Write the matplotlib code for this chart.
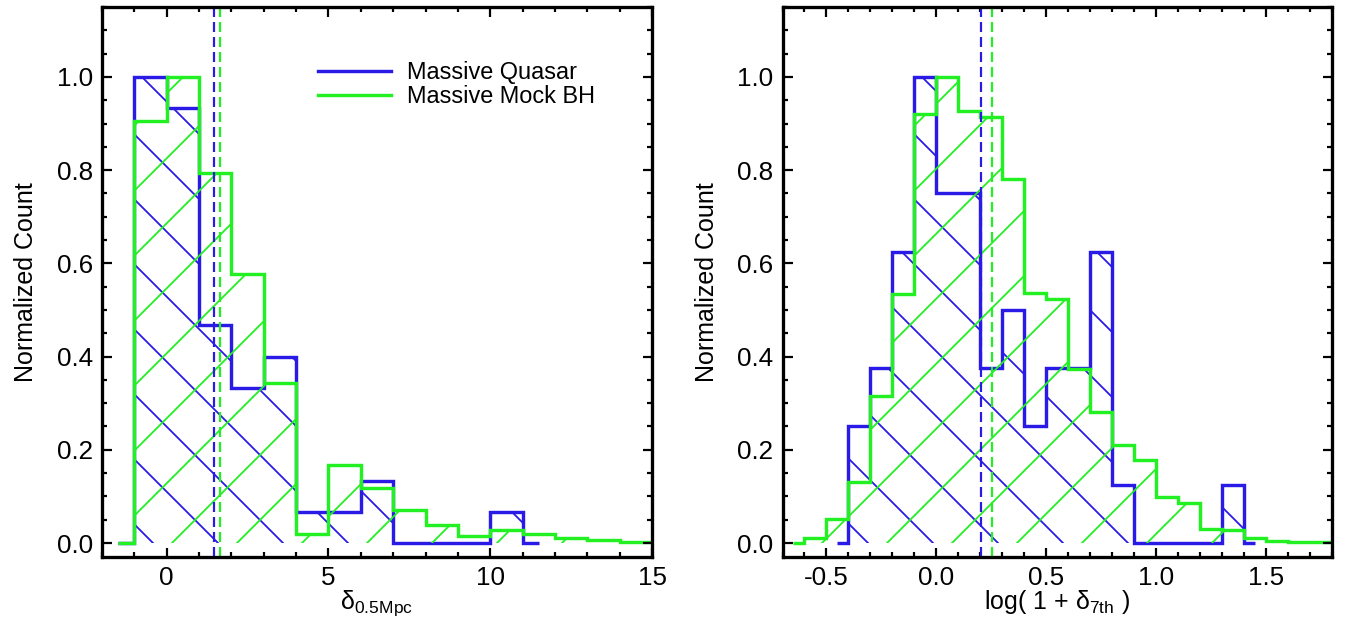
import numpy as np
import matplotlib
matplotlib.use("Agg")
import matplotlib.pyplot as plt
from matplotlib.lines import Line2D
from matplotlib.ticker import MultipleLocator, FormatStrFormatter

# ---- data ----
# left panel: delta_0.5Mpc, bin width 1
left_quasar_edges = [-1.5, -1, 0, 1, 2, 3, 4, 5, 6, 7, 8, 9, 10, 11, 11.5]
left_quasar = [0, 1.0, 0.933, 0.467, 0.333, 0.400, 0.067, 0.067, 0.133,
               0, 0, 0, 0.067, 0]
left_mock_edges = [-1.5, -1, 0, 1, 2, 3, 4, 5, 6, 7, 8, 9, 10, 11, 12, 13, 14, 15]
left_mock = [0, 0.905, 1.0, 0.794, 0.577, 0.343, 0.020, 0.168, 0.117, 0.071,
             0.039, 0.014, 0.028, 0.019, 0.010, 0.006, 0.002]
left_means = [1.46, 1.65]          # quasar, mock

# right panel: log(1 + delta_7th), bin width 0.1
right_quasar_edges = [-0.45, -0.4, -0.3, -0.2, -0.1, 0.0, 0.1, 0.2, 0.3, 0.4, 0.5,
                      0.6, 0.7, 0.8, 0.9, 1.0, 1.1, 1.2, 1.3, 1.4, 1.45]
right_quasar = [0, 0.25, 0.375, 0.625, 1.0, 0.75, 0.75, 0.375, 0.5, 0.25,
                0.375, 0.375, 0.625, 0.125, 0, 0, 0, 0, 0.125, 0]
right_mock_edges = [-0.65, -0.6, -0.5, -0.4, -0.3, -0.2, -0.1, 0.0, 0.1, 0.2, 0.3,
                    0.4, 0.5, 0.6, 0.7, 0.8, 0.9, 1.0, 1.1, 1.2, 1.3, 1.4, 1.5,
                    1.6, 1.7, 1.8]
right_mock = [0, 0.011, 0.052, 0.130, 0.316, 0.534, 0.920, 1.0, 0.926, 0.913,
              0.781, 0.537, 0.523, 0.373, 0.281, 0.211, 0.178, 0.098, 0.086,
              0.030, 0.028, 0.011, 0.005, 0.002, 0.002]
right_means = [0.203, 0.254]

labels = ["Massive Quasar", "Massive Mock BH"]
BLUE = "#2a1ae6"
GREEN = "#22f022"

# high dpi so the hatch tile (one inch) gives wide IDL-like line spacing
DPI = 390
W, H = 1345, 639


def px(p):
    """pixels -> points at the chosen dpi"""
    return p * 72.0 / DPI


plt.rcParams["font.family"] = ["Liberation Sans", "DejaVu Sans"]
plt.rcParams["mathtext.fontset"] = "custom"
plt.rcParams["mathtext.rm"] = "Liberation Sans"
plt.rcParams["mathtext.it"] = "Liberation Sans:italic"
plt.rcParams["axes.unicode_minus"] = False
plt.rcParams["hatch.linewidth"] = px(1.8)
plt.rcParams["lines.scale_dashes"] = False

fig = plt.figure(figsize=(W / DPI, H / DPI), dpi=DPI)
ax_l = fig.add_axes([102 / W, 1 - 557 / H, 550 / W, 550 / H])
ax_r = fig.add_axes([782.5 / W, 1 - 557 / H, 549.5 / W, 550 / H])


def draw_hist(ax, edges, vals, color, hatch):
    # hatched region, then thick outline on top
    ax.stairs(vals, edges, fill=True, facecolor="none", edgecolor=color,
              hatch=hatch, linewidth=0)
    ax.stairs(vals, edges, color=color, linewidth=px(3.4))


panels = [
    (ax_l, left_quasar_edges, left_quasar, left_mock_edges, left_mock, left_means,
     (-2, 15), 5, 1, "%d", r"$\mathrm{\delta}_{\mathrm{0.5Mpc}}$"),
    (ax_r, right_quasar_edges, right_quasar, right_mock_edges, right_mock, right_means,
     (-0.7, 1.8), 0.5, 0.1, "%.1f", r"log( 1 + $\mathrm{\delta}_{\mathrm{7th}}$ )"),
]

for ax, qe, qv, me, mv, means, xlim, xmaj, xmin, xfmt, xlabel in panels:
    draw_hist(ax, qe, qv, BLUE, "\\\\")
    draw_hist(ax, me, mv, GREEN, "//")
    for m, c in zip(means, [BLUE, GREEN]):
        ax.axvline(m, color=c, linewidth=px(2.2), dashes=(px(10), px(5)))

    ax.set_xlim(*xlim)
    ax.set_ylim(-0.03, 1.15)
    ax.xaxis.set_major_locator(MultipleLocator(xmaj))
    ax.xaxis.set_minor_locator(MultipleLocator(xmin))
    ax.xaxis.set_major_formatter(FormatStrFormatter(xfmt))
    ax.yaxis.set_major_locator(MultipleLocator(0.2))
    ax.yaxis.set_minor_locator(MultipleLocator(0.05))
    ax.yaxis.set_major_formatter(FormatStrFormatter("%.1f"))

    for s in ax.spines.values():
        s.set_linewidth(px(3.3))
    ax.tick_params(which="both", direction="in", top=True, right=True,
                   width=px(2.2), labelsize=px(26), colors="black")
    ax.tick_params(which="major", length=px(9.5))
    ax.tick_params(which="minor", length=px(5))
    ax.tick_params(axis="x", pad=px(9))
    ax.tick_params(axis="y", pad=px(9))

    ax.set_ylabel("Normalized Count", fontsize=px(25))
    ax.yaxis.set_label_coords(-0.116, 0.5)
    ax.set_xlabel(xlabel, fontsize=px(25))
    ax.xaxis.set_label_coords(0.5, -0.056)

handles = [Line2D([], [], color=BLUE, linewidth=px(3.4)),
           Line2D([], [], color=GREEN, linewidth=px(3.4))]
ax_l.legend(handles, labels, loc="upper left", bbox_to_anchor=(0.393, 0.901),
            frameon=False, fontsize=px(23.5), handlelength=3.1,
            handletextpad=0.68, labelspacing=0.02, borderpad=0,
            borderaxespad=0)

fig.savefig("out.png", dpi=DPI)
